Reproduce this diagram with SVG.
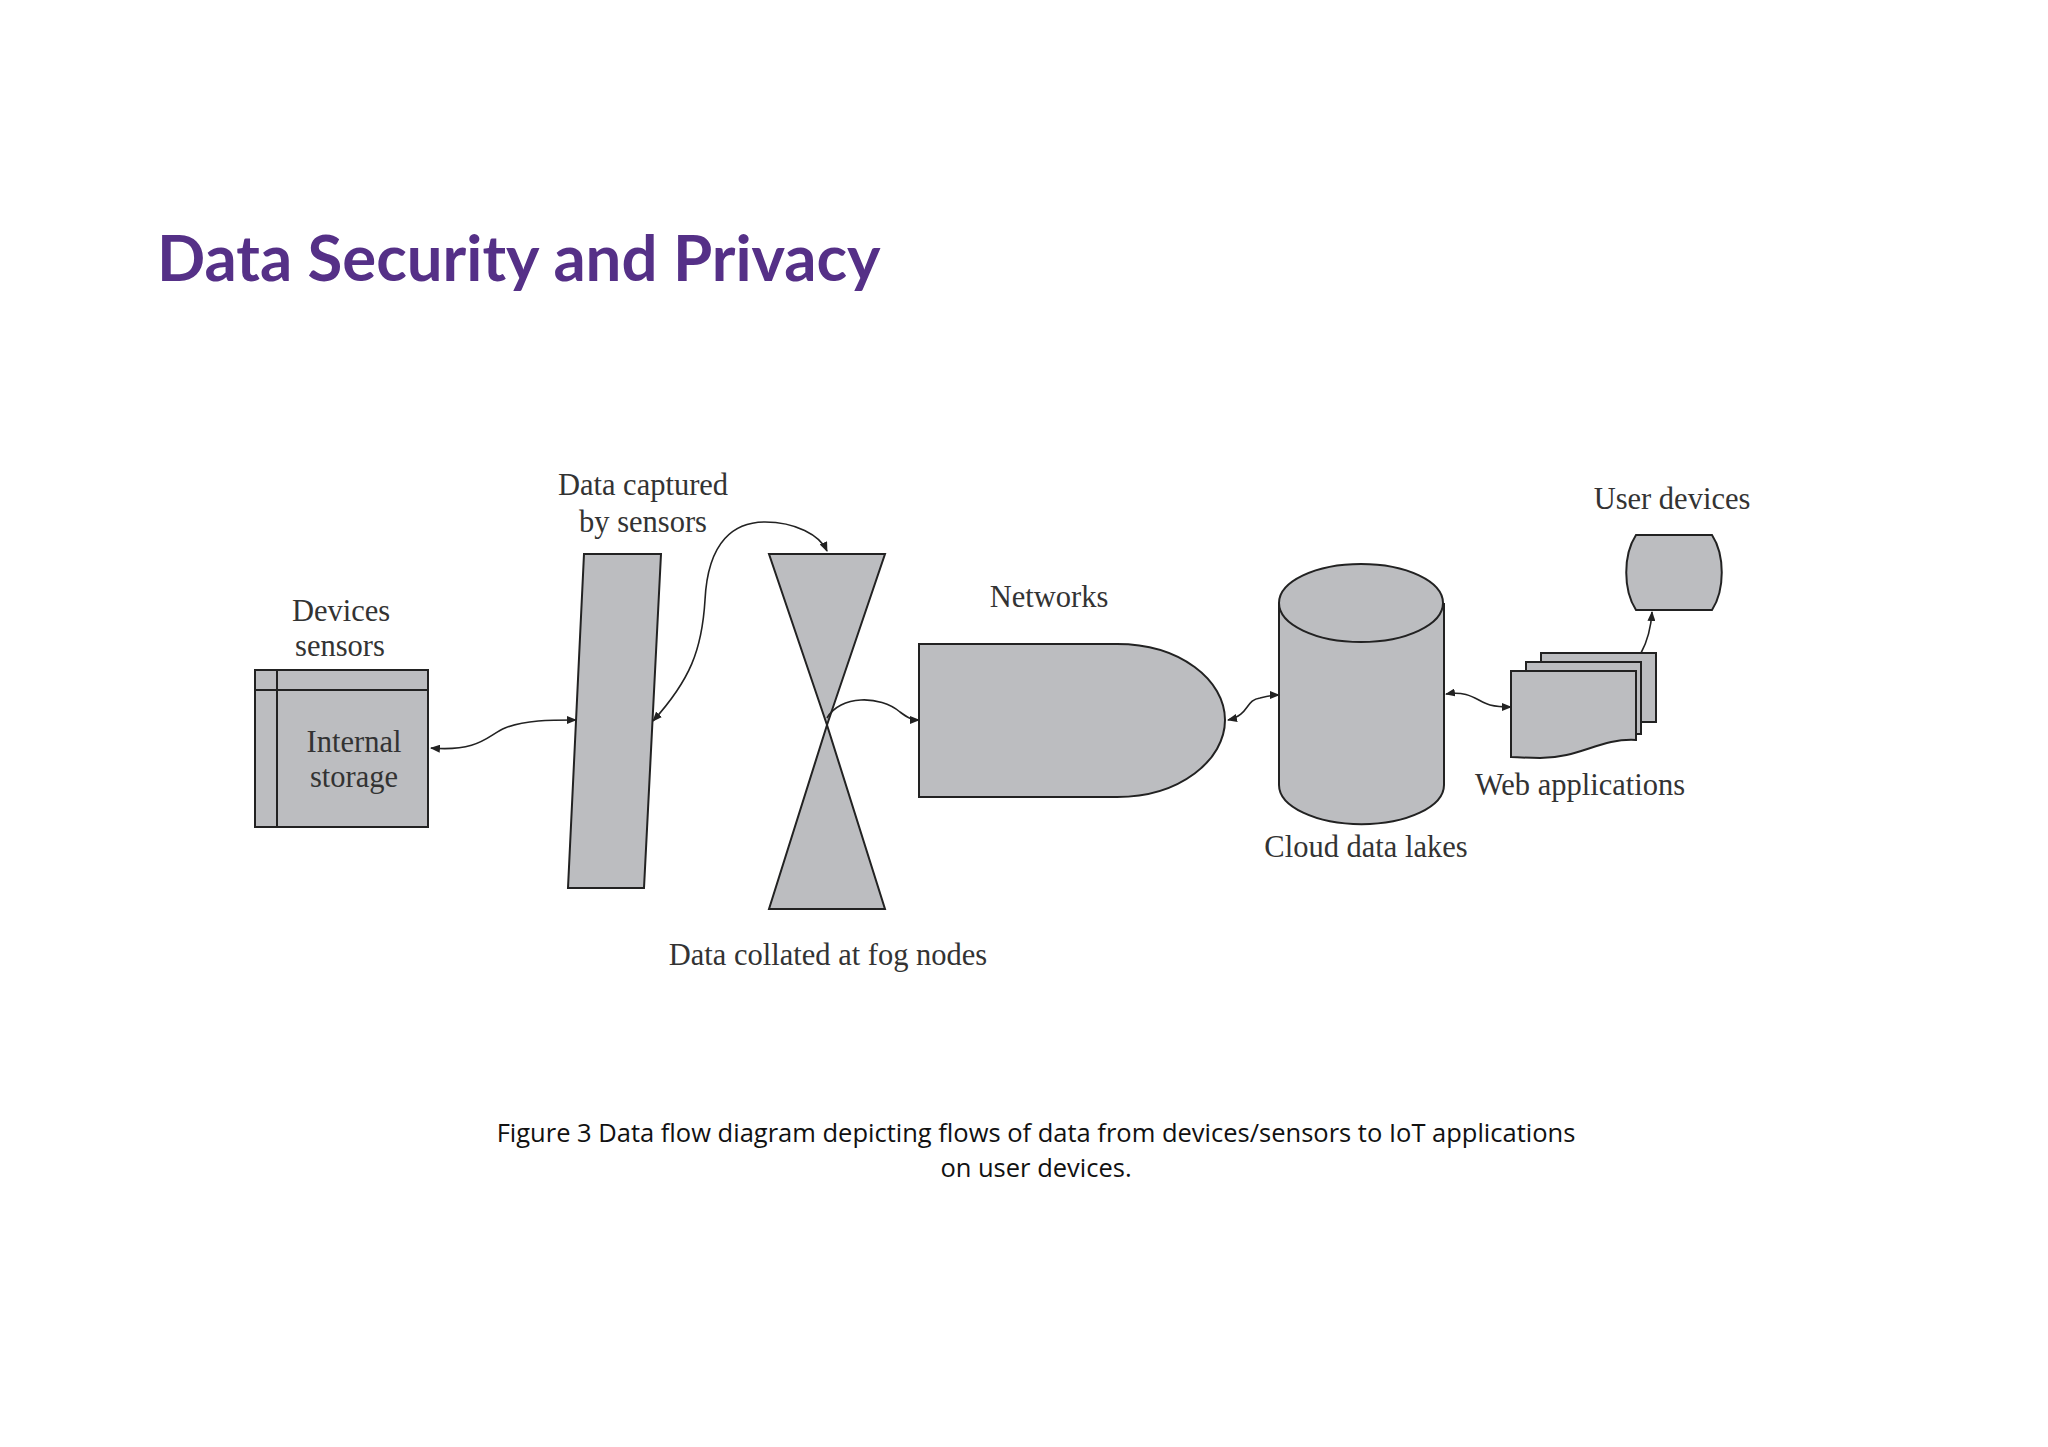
<svg xmlns="http://www.w3.org/2000/svg" width="2048" height="1447" viewBox="0 0 2048 1447">
<style>
.s{fill:#bcbdc0;stroke:#222;stroke-width:2}
.l{font-family:"Liberation Serif",serif;font-size:30.5px;fill:#333;text-anchor:middle}
.c{fill:none;stroke:#222;stroke-width:1.6}
.cap{font-family:"Open Sans","Liberation Sans",sans-serif;font-size:25.5px;fill:#111;text-anchor:middle}
</style>
<defs>
<marker id="a" markerWidth="10" markerHeight="8" refX="9" refY="4" orient="auto-start-reverse" markerUnits="userSpaceOnUse"><path d="M0,0L10,4L0,8z" fill="#222"/></marker>
</defs>
<rect width="2048" height="1447" fill="#fff"/>
<text x="157" y="281" font-family="Lato,'Open Sans',sans-serif" font-weight="bold" font-size="63.5" fill="#553087">Data Security and Privacy</text>
<g id="devices">
<rect class="s" x="255" y="670" width="173" height="157"/>
<line x1="255" y1="690" x2="428" y2="690" stroke="#222" stroke-width="2"/>
<line x1="277" y1="670" x2="277" y2="827" stroke="#222" stroke-width="2"/>
<text class="l" x="341" y="621">Devices</text>
<text class="l" x="340" y="656">sensors</text>
<text class="l" x="354" y="752">Internal</text>
<text class="l" x="354" y="787">storage</text>
</g>
<g id="sensors">
<polygon class="s" points="584,554 661,554 644,888 568,888"/>
<text class="l" x="643" y="495">Data captured</text>
<text class="l" x="643" y="532">by sensors</text>
</g>
<g id="fog">
<polygon class="s" points="769,554 885,554 827,725"/>
<polygon class="s" points="827,725 885,909 769,909"/>
<text class="l" x="828" y="965">Data collated at fog nodes</text>
</g>
<g id="networks">
<path class="s" d="M919,644 H1117 C1180,644 1225,680 1225,720 C1225,760 1180,797 1117,797 H919 Z"/>
<text class="l" x="1049" y="607">Networks</text>
</g>
<g id="cloud">
<path class="s" d="M1279,603 V785 A82,39 0 0 0 1444,785 V603"/>
<ellipse class="s" cx="1361" cy="603" rx="82" ry="39"/>
<text class="l" x="1366" y="857">Cloud data lakes</text>
</g>
<g id="webapps">
<rect class="s" x="1541" y="653" width="115" height="69"/>
<rect class="s" x="1526" y="662" width="115" height="72"/>
<path class="s" d="M1511,671 H1636 V740 C1600,738 1580,758 1540,758 C1525,758 1515,757 1511,757 Z"/>
<text class="l" x="1580" y="795">Web applications</text>
</g>
<g id="userdevices">
<path class="s" d="M1636,535 H1712 C1725,555 1725,590 1712,610 H1636 C1623,590 1623,555 1636,535 Z"/>
<text class="l" x="1672" y="509">User devices</text>
</g>
<g id="connectors">
<path class="c" marker-start="url(#a)" marker-end="url(#a)" d="M431,748 C480,752 488,735 505,728 C525,720 550,720 576,720"/>
<path class="c" marker-start="url(#a)" marker-end="url(#a)" d="M653,721 C690,680 702,650 705,600 C708,540 735,522 765,522 C795,522 820,535 827,551"/>
<path class="c" marker-end="url(#a)" d="M827,718 C840,695 880,695 900,712 C908,718 912,720 919,720"/>
<path class="c" marker-start="url(#a)" marker-end="url(#a)" d="M1228,720 C1250,715 1245,700 1260,698 C1268,696 1272,695 1279,695"/>
<path class="c" marker-start="url(#a)" marker-end="url(#a)" d="M1446,694 C1470,690 1478,702 1490,705 C1498,707 1505,707 1511,707"/>
<path class="c" marker-end="url(#a)" d="M1641,653 C1648,640 1651,628 1652,612"/>
</g>
<text class="cap" x="1036" y="1142">Figure 3 Data flow diagram depicting flows of data from devices/sensors to IoT applications</text>
<text class="cap" x="1036" y="1177">on user devices.</text>
</svg>
